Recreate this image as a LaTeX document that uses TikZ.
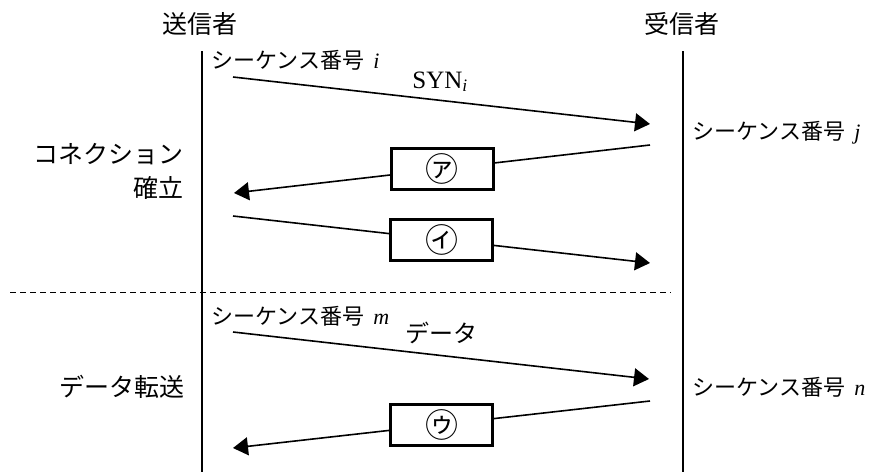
\documentclass[tikz,border=0pt]{standalone}
\usepackage{fontspec}
\setmainfont{Liberation Serif}
\newfontfamily\jpfont{Noto Sans CJK JP}
\usetikzlibrary{arrows.meta}

\begin{document}
\begin{tikzpicture}[
  x=0.5pt, y=-0.5pt,
  every node/.style={inner sep=0pt},
  ttl/.style={font={\jpfont\fontsize{12.5}{15}\selectfont}},
  lbl/.style={font={\fontsize{11}{13}\selectfont}, anchor=west},
  grp/.style={font={\jpfont\fontsize{12.5}{17}\selectfont}, align=right, anchor=east},
  life/.style={line width=0.6pt},
  msg/.style={line width=0.8pt, -{Triangle[length=7.5pt,width=9pt]}},
  pkt/.style={draw, line width=1.5pt, fill=white, minimum width=51pt,
              minimum height=20.5pt, font={\jpfont\fontsize{16.5}{16.5}\selectfont}}
]
\useasboundingbox (0,0) rectangle (869,472);

\node[ttl] (snd) at (200,24) {送信者};
\node[ttl] (rcv) at (682,24) {受信者};

\coordinate (sndTop) at (202,51);
\coordinate (sndBot) at (202,472);
\coordinate (rcvTop) at (683,51);
\coordinate (rcvBot) at (683,472);
\draw[life] (sndTop) -- (sndBot);
\draw[life] (rcvTop) -- (rcvBot);

% connection setup
\node[grp] (conn) at (184,171) {コネクション\\確立};
\node[lbl] (seqI) at (211,60) {{\jpfont シーケンス番号}\, \textit{i}};
\node[lbl] (seqJ) at (692,133) {{\jpfont シーケンス番号}\, \textit{j}};

\coordinate (m1s) at (233,77);  \coordinate (m1e) at (650,124);
\coordinate (m2s) at (650,145); \coordinate (m2e) at (234,193);
\coordinate (m3s) at (233,216); \coordinate (m3e) at (650,263);

\draw[msg] (m1s) -- (m1e);
\node[font={\fontsize{12.5}{14}\selectfont}, anchor=base west] (syn) at (412,88)
  {SYN\textsubscript{\itshape i}};
\draw[msg] (m2s) -- node[pkt] (pktA) {㋐} (m2e);
\draw[msg] (m3s) -- node[pkt] (pktI) {㋑} (m3e);

\coordinate (sepL) at (10,292);
\coordinate (sepR) at (671,292);
\draw[line width=0.4pt, dash pattern=on 3pt off 2pt] (sepL) -- (sepR);

% data transfer
\node[grp] (xfer) at (185,387) {データ転送};
\node[lbl] (seqM) at (211,316) {{\jpfont シーケンス番号}\, \textit{m}};
\node[lbl] (seqN) at (692,387) {{\jpfont シーケンス番号}\, \textit{n}};

\coordinate (m4s) at (233,332); \coordinate (m4e) at (649,379);
\coordinate (m5s) at (650,401); \coordinate (m5e) at (233,448);

\draw[msg] (m4s) -- (m4e);
\node[font={\jpfont\fontsize{12}{14}\selectfont}] (dat) at (441,333) {データ};
\draw[msg] (m5s) -- node[pkt] (pktU) {㋒} (m5e);

\end{tikzpicture}
\end{document}
